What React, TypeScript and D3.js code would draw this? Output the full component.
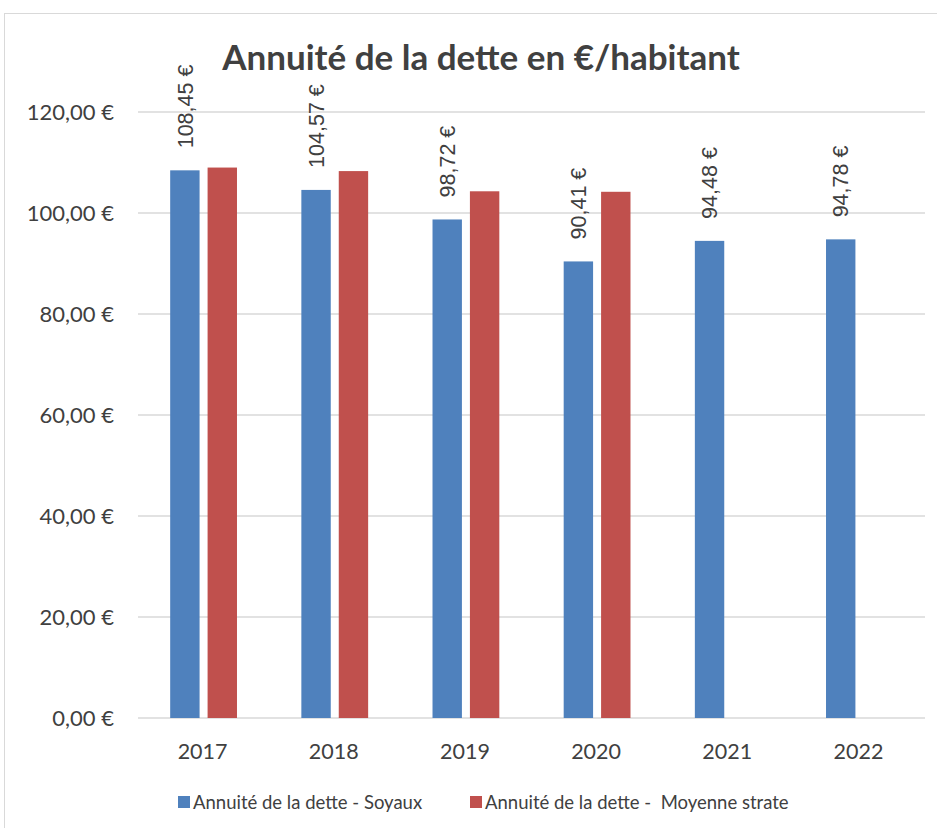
import * as d3 from 'd3';
import { useEffect, useRef } from 'react';

const width = 937;
const height = 828;

const years = ['2017', '2018', '2019', '2020', '2021', '2022'];
const series = ['Annuité de la dette - Soyaux', 'Annuité de la dette -  Moyenne strate'];
const soyaux = [108.45, 104.57, 98.72, 90.41, 94.48, 94.78];
const strate = [109.0, 108.3, 104.3, 104.2, null, null];
const yTicks = [0, 20, 40, 60, 80, 100, 120];
const colors = ['#4F81BD', '#C0504D'];

const fmt = (v: number) => v.toFixed(2).replace('.', ',') + ' €';

const App = () => {
  const svgRef = useRef<SVGSVGElement>(null);

  useEffect(() => {
    const svg = d3.select(svgRef.current);
    svg.selectAll('*').remove();

    const calib = 'Lato, "Open Sans", sans-serif';

    // outer frame
    svg
      .append('rect')
      .attr('x', 4.5)
      .attr('y', 13.5)
      .attr('width', 1000)
      .attr('height', 1000)
      .attr('fill', '#fff')
      .attr('stroke', '#d9d9d9')
      .attr('stroke-width', 1);

    const x0 = d3.scaleBand().domain(years).range([138, 925]);
    const x1 = d3.scaleBand().domain(series).range([0, 66.8]).paddingInner(0.214);
    const groupOffset = (x0.bandwidth() - 66.8) / 2;
    const y = d3.scaleLinear().domain([0, 120]).range([718, 112]);

    // gridlines
    svg
      .append('g')
      .selectAll('line')
      .data(yTicks)
      .join('line')
      .attr('x1', 138)
      .attr('x2', 925)
      .attr('y1', (d) => y(d))
      .attr('y2', (d) => y(d))
      .attr('stroke', '#d9d9d9')
      .attr('stroke-width', 1.5);

    // y labels
    svg
      .append('g')
      .selectAll('text')
      .data(yTicks)
      .join('text')
      .attr('x', 114)
      .attr('y', (d) => y(d))
      .attr('dy', '0.36em')
      .attr('text-anchor', 'end')
      .attr('font-family', calib)
      .attr('font-size', 22)
      .attr('fill', '#404040')
      .text((d) => fmt(d));

    // x labels
    svg
      .append('g')
      .selectAll('text')
      .data(years)
      .join('text')
      .attr('x', (d) => x0(d)! + x0.bandwidth() / 2 - 1)
      .attr('y', 759)
      .attr('text-anchor', 'middle')
      .attr('font-family', calib)
      .attr('font-size', 21.5)
      .attr('fill', '#404040')
      .text((d) => d);

    const allSeries = [soyaux, strate];
    allSeries.forEach((vals, si) => {
      const bars = years
        .map((yr, i) => ({ yr, v: vals[i] }))
        .filter((d) => d.v != null) as { yr: string; v: number }[];
      svg
        .append('g')
        .selectAll('rect')
        .data(bars)
        .join('rect')
        .attr('x', (d) => x0(d.yr)! + groupOffset + x1(series[si])!)
        .attr('y', (d) => y(d.v))
        .attr('width', x1.bandwidth())
        .attr('height', (d) => y(0) - y(d.v))
        .attr('fill', colors[si]);
    });

    // data labels on Soyaux bars
    svg
      .append('g')
      .selectAll('text')
      .data(soyaux)
      .join('text')
      .attr('transform', (d, i) => {
        const cx = x0(years[i])! + groupOffset + x1(series[0])! + x1.bandwidth() / 2;
        return `translate(${cx},${y(d) - 22}) rotate(-90)`;
      })
      .attr('dy', '0.36em')
      .attr('font-family', '"Liberation Sans", Arial, sans-serif')
      .attr('font-size', 21.5)
      .attr('fill', '#404040')
      .text((d) => fmt(d));

    // title
    svg
      .append('text')
      .attr('x', 481)
      .attr('y', 70)
      .attr('text-anchor', 'middle')
      .attr('font-family', calib)
      .attr('font-weight', 'bold')
      .attr('font-size', 35)
      .attr('fill', '#404040')
      .text('Annuité de la dette en €/habitant');

    // legend
    const legendX = [178, 470];
    const lg = svg
      .append('g')
      .selectAll('g')
      .data(series)
      .join('g')
      .attr('transform', (d, i) => `translate(${legendX[i]},796)`);
    lg.append('rect')
      .attr('width', 12)
      .attr('height', 12)
      .attr('fill', (d, i) => colors[i]);
    lg.append('text')
      .attr('x', 15)
      .attr('y', 12.5)
      .attr('font-family', calib)
      .attr('font-size', 18.5)
      .attr('fill', '#404040')
      .style('white-space', 'pre')
      .text((d) => d);
  }, []);

  return (
    <div style={{ position: 'absolute', left: 0, top: 0 }}>
      <svg ref={svgRef} width={width} height={height} style={{ display: 'block' }}></svg>
    </div>
  );
};

export default App;
